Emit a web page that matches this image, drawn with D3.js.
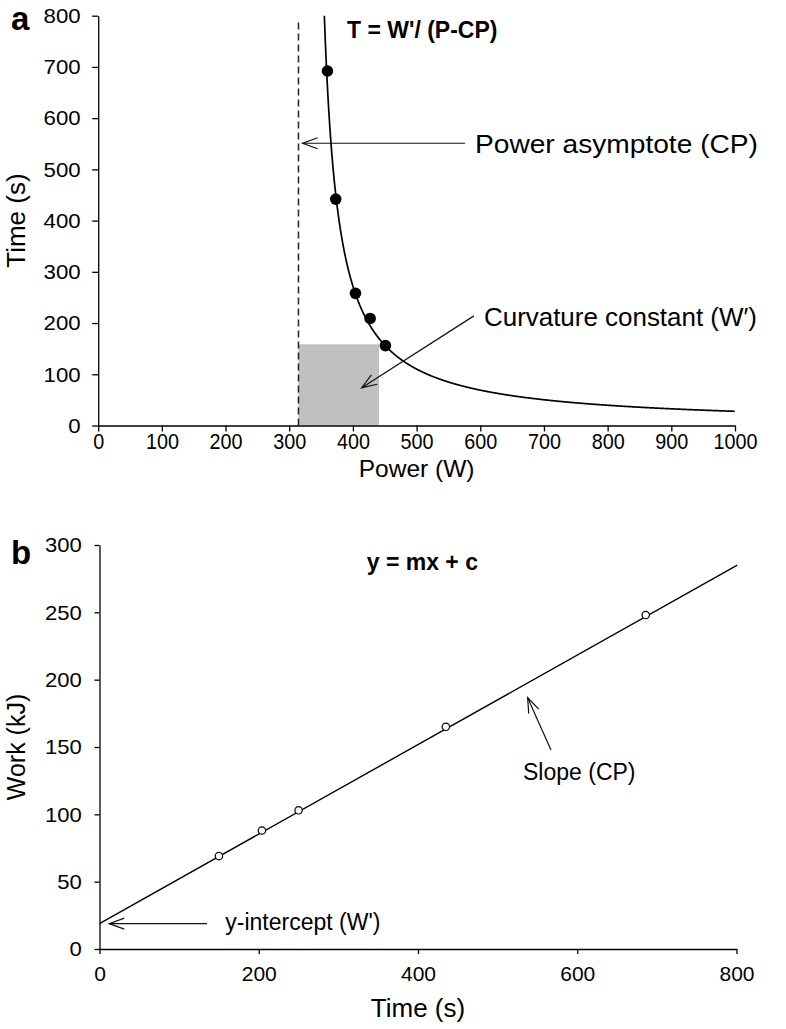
<!DOCTYPE html>
<html><head><meta charset="utf-8">
<script src="https://cdn.jsdelivr.net/npm/d3@7"></script>
<style>
body{margin:0;background:#fff}
svg{display:block}
text{font-family:"Liberation Sans",Arial,Helvetica,sans-serif;fill:#000}
</style>
</head><body>
<svg id="c" width="786" height="1029"></svg>
<script>
// ---------- data ----------
// panel a: power-duration points
const powerW = [360, 373, 404, 427, 451];
const timeA  = [692, 442, 258, 209, 156];
// panel b: work-time points
const timeB  = [150, 204, 250, 435, 686];
const workB  = [69, 88, 103, 165, 248];
// tick values
const xTicksA = [0,100,200,300,400,500,600,700,800,900,1000];
const yTicksA = [0,100,200,300,400,500,600,700,800];
const xTicksB = [0,200,400,600,800];
const yTicksB = [0,50,100,150,200,250,300];
// model parameters
const cpFit = 332;          // W (hyperbola asymptote used by the curve)
const wPrimeFit = 18500;    // J
const cpAsymptote = 314.5;  // W (dashed line)
const rectPower = 441;      // W, right edge of W' rectangle
const rectTime = 158.5;     // s, top of W' rectangle
const lineSlope = 0.3325;   // kJ/s
const lineIntercept = 18.8; // kJ
const lineEndTime = 801;

// ---------- scales ----------
const svg = d3.select('#c');
const xA = d3.scaleLinear().domain([0,1000]).range([98.2,735]);
const yA = d3.scaleLinear().domain([0,800]).range([425.5,15.7]);
const xB = d3.scaleLinear().domain([0,800]).range([99.5,736.5]);
const yB = d3.scaleLinear().domain([0,300]).range([949,545]);

// arrow marker
const defs = svg.append('defs');
defs.append('marker').attr('id','arr')
  .attr('markerUnits','userSpaceOnUse').attr('orient','auto')
  .attr('refX',0).attr('refY',0).attr('markerWidth',1).attr('markerHeight',1)
  .attr('overflow','visible')
  .append('path').attr('d','M-15,-5.5 L0,0 L-15,5.5')
  .attr('fill','none').attr('stroke','#111').attr('stroke-width',1.2);

function styleAxis(g, fs){
  g.attr('font-family',null).attr('font-size',null);
  g.selectAll('path.domain').attr('stroke','#000').attr('stroke-width',1.3);
  g.selectAll('.tick line').attr('stroke','#000').attr('stroke-width',1.3);
  g.selectAll('.tick text').style('font-size',fs+'px').attr('fill','#000');
}
const fmt = d3.format('d');

// ================= Panel a =================
const gA = svg.append('g');
gA.append('rect')
  .attr('x',xA(cpAsymptote)).attr('y',yA(rectTime))
  .attr('width',xA(rectPower)-xA(cpAsymptote))
  .attr('height',yA(0)-yA(rectTime))
  .attr('fill','#c0c0c0');
gA.append('line')
  .attr('x1',xA(cpAsymptote)).attr('x2',xA(cpAsymptote))
  .attr('y1',yA(0)).attr('y2',yA(794))
  .attr('stroke','#222').attr('stroke-width',1.5).attr('stroke-dasharray','7,4');
const pStart = cpFit + wPrimeFit/800;
const curvePts = d3.range(pStart, 1000.01, 0.5).map(p => [p, wPrimeFit/(p-cpFit)]);
curvePts[0] = [pStart, 800];
gA.append('path').datum(curvePts)
  .attr('d', d3.line().x(d=>xA(d[0])).y(d=>yA(d[1])))
  .attr('fill','none').attr('stroke','#000').attr('stroke-width',1.7);
gA.selectAll('circle.pa').data(powerW).enter().append('circle')
  .attr('cx',d=>xA(d)).attr('cy',(d,i)=>yA(timeA[i])).attr('r',5.8).attr('fill','#000');
const axXA = gA.append('g').attr('transform',`translate(0,${yA(0)})`)
  .call(d3.axisBottom(xA).tickValues(xTicksA).tickFormat(fmt).tickSize(6).tickSizeOuter(0).tickPadding(2));
styleAxis(axXA,22);
axXA.selectAll('.tick text').attr('transform','scale(0.9,1)');
const axYA = gA.append('g').attr('transform',`translate(${xA(0)},0)`)
  .call(d3.axisLeft(yA).tickValues(yTicksA).tickFormat(fmt).tickSize(6).tickSizeOuter(0).tickPadding(10.5));
styleAxis(axYA,21);
axYA.selectAll('.tick text').attr('transform','scale(1.06,1)');
gA.append('text').attr('x',(xA(0)+xA(1000))/2).attr('y',477)
  .attr('text-anchor','middle').style('font-size','24.5px').text('Power (W)');
gA.append('text').attr('transform',`translate(25,${(yA(0)+yA(800))/2}) rotate(-90)`)
  .attr('text-anchor','middle').style('font-size','26px').text('Time (s)');
gA.append('text').attr('x',11).attr('y',30).style('font-size','33px').style('font-weight','bold').text('a');
gA.append('text').attr('x',xA(390.7)).attr('y',yA(756.5))
  .style('font-size','23px').style('font-weight','bold').text("T = W'/ (P-CP)");
gA.append('line').attr('x1',xA(576)).attr('y1',yA(551)).attr('x2',xA(321)).attr('y2',yA(551))
  .attr('stroke','#111').attr('stroke-width',1.2).attr('marker-end','url(#arr)');
gA.append('text').attr('x',xA(591.7)).attr('y',yA(532))
  .style('font-size','26px').attr('textLength',283).attr('lengthAdjust','spacingAndGlyphs')
  .text('Power asymptote (CP)');
gA.append('line').attr('x1',xA(590)).attr('y1',yA(214)).attr('x2',xA(413.8)).attr('y2',yA(73.8))
  .attr('stroke','#111').attr('stroke-width',1.2).attr('marker-end','url(#arr)');
gA.append('text').attr('x',xA(605.8)).attr('y',yA(194))
  .style('font-size','26px').attr('textLength',273).attr('lengthAdjust','spacingAndGlyphs')
  .text('Curvature constant (W\u2032)');

// ================= Panel b =================
const gB = svg.append('g');
gB.append('line')
  .attr('x1',xB(0)).attr('y1',yB(lineIntercept))
  .attr('x2',xB(lineEndTime)).attr('y2',yB(lineIntercept+lineSlope*lineEndTime))
  .attr('stroke','#000').attr('stroke-width',1.4);
gB.selectAll('circle.pb').data(timeB).enter().append('circle')
  .attr('cx',d=>xB(d)).attr('cy',(d,i)=>yB(workB[i])).attr('r',3.7)
  .attr('fill','#fff').attr('stroke','#000').attr('stroke-width',1.2);
const axXB = gB.append('g').attr('transform',`translate(0,${yB(0)})`)
  .call(d3.axisBottom(xB).tickValues(xTicksB).tickFormat(fmt).tickSize(5).tickSizeOuter(0).tickPadding(12.5));
styleAxis(axXB,21);
const axYB = gB.append('g').attr('transform',`translate(${xB(0)},0)`)
  .call(d3.axisLeft(yB).tickValues(yTicksB).tickFormat(fmt).tickSize(5).tickSizeOuter(0).tickPadding(12));
styleAxis(axYB,21);
axYB.selectAll('.tick text').attr('transform','scale(1.05,1)');
gB.append('text').attr('x',(xB(0)+xB(800))/2).attr('y',1017)
  .attr('text-anchor','middle').style('font-size','26px').text('Time (s)');
gB.append('text').attr('transform',`translate(25,${(yB(0)+yB(300))/2}) rotate(-90)`)
  .attr('text-anchor','middle').style('font-size','25px').text('Work (kJ)');
gB.append('text').attr('x',11).attr('y',564).style('font-size','33px').style('font-weight','bold').text('b');
gB.append('text').attr('x',xB(335.6)).attr('y',yB(281.1))
  .style('font-size','23px').style('font-weight','bold').text('y = mx + c');
gB.append('line').attr('x1',xB(567)).attr('y1',yB(147.8)).attr('x2',xB(537.7)).attr('y2',yB(186.6))
  .attr('stroke','#111').attr('stroke-width',1.2).attr('marker-end','url(#arr)');
gB.append('text').attr('x',xB(531.9)).attr('y',yB(125.5)).style('font-size','23px').text('Slope (CP)');
gB.append('line').attr('x1',xB(135)).attr('y1',yB(lineIntercept)).attr('x2',xB(12.3)).attr('y2',yB(lineIntercept))
  .attr('stroke','#111').attr('stroke-width',1.2).attr('marker-end','url(#arr)');
gB.append('text').attr('x',xB(158)).attr('y',yB(14.1)).style('font-size','23px').text("y-intercept (W')");
</script>
</body></html>
